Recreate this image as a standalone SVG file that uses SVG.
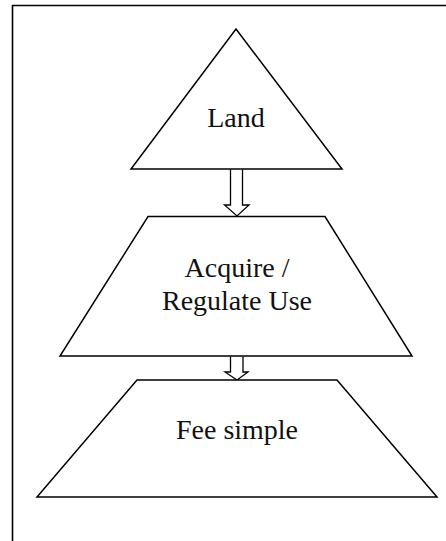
<svg xmlns="http://www.w3.org/2000/svg" width="446" height="541" viewBox="0 0 446 541">
<style>
.shape{fill:#fff;stroke:#000;stroke-width:1.5;stroke-linejoin:miter}
.arrow{fill:#fff;stroke:#000;stroke-width:1.3}
.frame{fill:none;stroke:#000;stroke-width:1.6}
text{font-family:"Liberation Serif","Times New Roman",serif;font-size:28px;fill:#111;text-anchor:middle}
</style>
<rect width="446" height="541" fill="#fff"/>
<path class="frame" d="M12.5 541 V5.5 H446"/>
<g id="connectors">
<path class="arrow" d="M230.5 169.5 V205 H224.5 L237 216 L249 205 H242.5 V169.5"/>
<path class="arrow" d="M230.5 356.5 V372 H225 L237 380 L248 372 H243 V356.5"/>
</g>
<g id="land">
<polygon class="shape" points="236,29 342,169 131,169"/>
<text x="236" y="127">Land</text>
</g>
<g id="acquire">
<polygon class="shape" points="148,216.5 325,216.5 412,356 60,356"/>
<text x="237" y="277">Acquire /</text>
<text x="237" y="310">Regulate Use</text>
</g>
<g id="fee">
<polygon class="shape" points="137,380 337,380 437,497 37,497"/>
<text x="237" y="439">Fee simple</text>
</g>
</svg>
